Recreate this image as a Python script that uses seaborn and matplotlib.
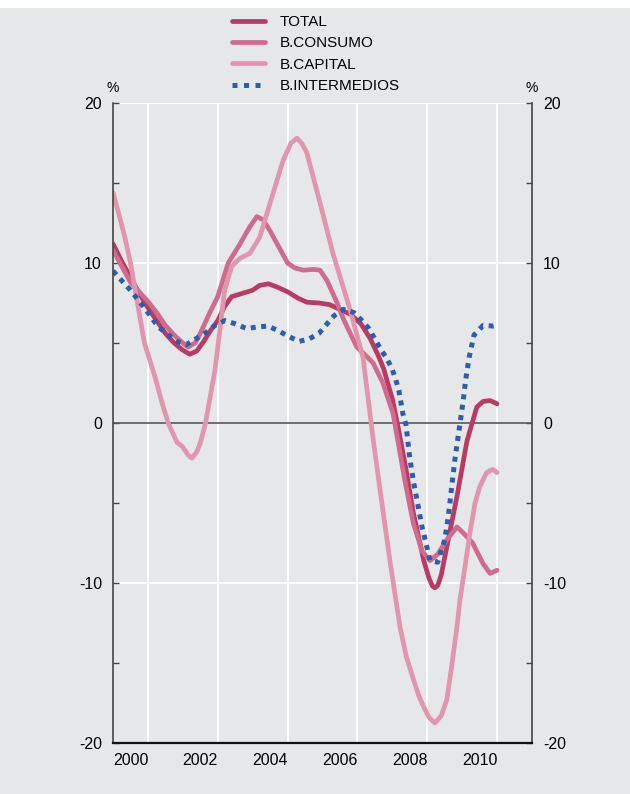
import numpy as np
import pandas as pd
import matplotlib
matplotlib.use('Agg')
import matplotlib.pyplot as plt
from matplotlib.patches import Rectangle
import seaborn as sns

# values (decimal years, % change)
total_x = [2000.0, 2000.25, 2000.5, 2000.75, 2001.0, 2001.25, 2001.5, 2001.75, 2002.0, 2002.2,
           2002.4, 2002.6, 2002.8, 2003.0, 2003.2, 2003.4, 2003.7, 2004.0, 2004.2, 2004.45,
           2004.7, 2005.0, 2005.3, 2005.55, 2005.9, 2006.2, 2006.5, 2006.8, 2007.1, 2007.36,
           2007.6, 2007.75, 2008.0, 2008.16, 2008.4, 2008.6, 2008.9, 2009.05, 2009.15, 2009.22,
           2009.3, 2009.4, 2009.56, 2009.85, 2010.14, 2010.42, 2010.6, 2010.8, 2011.0]
total_y = [11.2, 10.1, 9.1, 8.1, 7.2, 6.4, 5.6, 5.0, 4.55, 4.3,
           4.5, 5.1, 5.8, 6.4, 7.3, 7.9, 8.1, 8.3, 8.6, 8.7,
           8.5, 8.2, 7.8, 7.55, 7.5, 7.4, 7.1, 6.8, 6.2, 5.3,
           4.2, 3.4, 1.5, -0.2, -3.0, -5.6, -8.6, -9.7, -10.2, -10.3,
           -10.15, -9.5, -7.75, -4.6, -1.1, 1.0, 1.35, 1.4, 1.2]

consumo_x = [2000.0, 2000.25, 2000.5, 2000.75, 2001.0, 2001.25, 2001.5, 2001.75, 2002.0, 2002.15,
             2002.35, 2002.5, 2002.75, 2003.0, 2003.3, 2003.64, 2003.9, 2004.12, 2004.3, 2004.5,
             2004.75, 2005.0, 2005.2, 2005.45, 2005.75, 2005.93, 2006.13, 2006.4, 2006.6, 2006.98,
             2007.2, 2007.45, 2007.73, 2008.02, 2008.15, 2008.35, 2008.6, 2008.85, 2009.08, 2009.3,
             2009.56, 2009.85, 2010.0, 2010.3, 2010.6, 2010.8, 2011.0]
consumo_y = [10.8, 9.8, 8.8, 8.2, 7.6, 6.9, 6.1, 5.5, 5.0, 4.75,
             5.0, 5.6, 6.8, 7.9, 10.0, 11.2, 12.2, 12.9, 12.7, 12.0,
             11.0, 10.0, 9.7, 9.55, 9.6, 9.55, 8.9, 7.6, 6.5, 4.75,
             4.3, 3.75, 2.5, 0.6, -1.0, -3.5, -6.25, -8.0, -8.6, -8.2,
             -7.3, -6.5, -6.8, -7.5, -8.8, -9.4, -9.2]

capital_x = [2000.0, 2000.15, 2000.34, 2000.5, 2000.7, 2000.9, 2001.2, 2001.4, 2001.58, 2001.83,
             2002.0, 2002.15, 2002.26, 2002.4, 2002.5, 2002.65, 2002.92, 2003.2, 2003.4, 2003.64,
             2003.92, 2004.2, 2004.5, 2004.87, 2005.1, 2005.27, 2005.4, 2005.55, 2005.93, 2006.3,
             2006.8, 2007.16, 2007.45, 2007.7, 2007.93, 2008.22, 2008.4, 2008.6, 2008.75, 2008.9,
             2009.05, 2009.22, 2009.4, 2009.56, 2009.7, 2009.85, 2009.94, 2010.08, 2010.22, 2010.37,
             2010.5, 2010.7, 2010.87, 2011.0]
capital_y = [14.4, 13.2, 11.6, 10.0, 7.5, 5.0, 2.9, 1.3, 0.0, -1.2,
             -1.5, -2.0, -2.2, -1.8, -1.25, 0.0, 3.3, 8.3, 9.8, 10.3,
             10.6, 11.6, 13.75, 16.4, 17.5, 17.8, 17.5, 16.9, 13.75, 10.6,
             7.0, 4.1, -1.0, -5.0, -8.6, -12.75, -14.6, -16.0, -17.0, -17.75,
             -18.4, -18.75, -18.3, -17.3, -15.2, -12.75, -11.0, -9.0, -6.9, -5.0,
             -4.0, -3.1, -2.9, -3.1]

interm_x = [2000.0, 2000.5, 2000.9, 2001.3, 2001.83, 2002.1, 2002.63, 2002.92, 2003.2, 2003.5,
            2003.83, 2004.12, 2004.44, 2004.75, 2005.04, 2005.33, 2005.61, 2005.9, 2006.13, 2006.33,
            2006.6, 2006.9, 2007.13, 2007.33, 2007.5, 2007.67, 2007.85, 2007.99, 2008.1, 2008.19,
            2008.25, 2008.3, 2008.39, 2008.5, 2008.6, 2008.73, 2008.85, 2008.94, 2009.08, 2009.3,
            2009.5, 2009.6, 2009.7, 2009.79, 2009.94, 2010.03, 2010.1, 2010.2, 2010.34, 2010.6,
            2010.9, 2011.0]
interm_y = [9.5, 8.3, 7.2, 6.0, 5.1, 4.9, 5.6, 6.1, 6.4, 6.2,
            5.9, 6.0, 6.06, 5.75, 5.4, 5.1, 5.25, 5.6, 6.2, 6.7,
            7.1, 6.9, 6.4, 5.9, 5.25, 4.6, 4.0, 3.4, 2.7, 2.0,
            1.25, 0.6, -0.1, -2.2, -3.6, -5.1, -6.5, -7.3, -8.6, -8.7,
            -7.3, -5.9, -4.0, -2.3, 0.0, 1.4, 2.7, 4.1, 5.5, 6.1,
            6.06, 6.1]

labels = ['TOTAL', 'B.CONSUMO', 'B.CAPITAL', 'B.INTERMEDIOS']
colors = ['#b93a63', '#cf6b8c', '#e196ae', '#2b5fae']
year_labels = ['2000', '2002', '2004', '2006', '2008', '2010']

frames = []
for name, xs, ys in zip(labels, [total_x, consumo_x, capital_x, interm_x],
                        [total_y, consumo_y, capital_y, interm_y]):
    frames.append(pd.DataFrame({'year': xs, 'value': ys, 'serie': name}))
df = pd.concat(frames, ignore_index=True)

sns.set_style('white')
plt.rcParams['font.family'] = ['Liberation Sans', 'DejaVu Sans']
plt.rcParams['axes.unicode_minus'] = False
plt.rcParams['text.color'] = 'black'
plt.rcParams['xtick.labelcolor'] = 'black'
plt.rcParams['ytick.labelcolor'] = 'black'
bg = '#e6e7e9'

fig = plt.figure(figsize=(6.3, 7.94), dpi=100, facecolor=bg)
fig.patches.append(Rectangle((0, 1 - 8 / 794), 1, 8 / 794, transform=fig.transFigure,
                             facecolor='white', edgecolor='none', zorder=0))
ax = fig.add_axes([113 / 630, 51 / 794, 419 / 630, 640 / 794])
ax.set_facecolor(bg)

# white grid
for yr in range(2001, 2012, 2):
    ax.axvline(yr, color='white', lw=1.3, zorder=0)
ax.set_ylim(-20, 20)
ax.set_xlim(2000, 2012)
ax.set_yticks(np.arange(-20, 21, 10))
ax.set_yticks(np.arange(-20, 21, 5), minor=True)
ax.yaxis.grid(True, color='white', lw=1.3, zorder=0)
ax.set_axisbelow(True)
ax.axhline(0, color='#555555', lw=1.2, zorder=1)

dashes = {'TOTAL': '', 'B.CONSUMO': '', 'B.CAPITAL': '', 'B.INTERMEDIOS': (1, 1.1)}
sns.lineplot(data=df, x='year', y='value', hue='serie', style='serie', hue_order=labels,
             style_order=labels, palette=colors, dashes=dashes, sort=False,
             estimator=None, ax=ax, legend=False, lw=3.4)
for line in ax.get_lines():
    line.set_solid_capstyle('round')
    line.set_solid_joinstyle('round')
ax.get_lines()[-1].set_linewidth(3.6)

# x ticks: marks each year, labels centred in even years
ax.set_xticks(np.arange(2000, 2013, 1))
ax.set_xticklabels([])
ax.set_xticks(np.arange(2000.5, 2011, 2), minor=True)
ax.set_xticklabels(year_labels, minor=True)
ax.tick_params(axis='x', which='major', direction='in', length=4, width=1.2, color='#222222')
ax.tick_params(axis='x', which='minor', length=0, pad=7, labelsize=11.5)
ax.tick_params(axis='y', which='both', direction='in', left=True, right=True,
               labelleft=True, labelright=True, length=4, width=1, color='#444444',
               labelsize=11.5, pad=8)
ax.set_xlabel('')
ax.set_ylabel('')

for side in ['left', 'right']:
    ax.spines[side].set_color('#444444')
    ax.spines[side].set_linewidth(1.2)
ax.spines['bottom'].set_color('#111111')
ax.spines['bottom'].set_linewidth(1.6)
ax.spines['top'].set_visible(False)

ax.text(0, 1.012, '%', transform=ax.transAxes, ha='center', va='bottom', fontsize=10)
ax.text(1, 1.012, '%', transform=ax.transAxes, ha='center', va='bottom', fontsize=10)

handles = []
for name, c in zip(labels, colors):
    if name == 'B.INTERMEDIOS':
        h, = ax.plot([], [], color=c, lw=3.6, ls=(0, (1, 1.3)))
    else:
        h, = ax.plot([], [], color=c, lw=3.4)
    handles.append(h)
fig.legend(handles, labels, loc='upper left', bbox_to_anchor=(232 / 630, 1 - 15 / 794),
           frameon=False, fontsize=11, handlelength=2.15, handletextpad=1.0,
           labelspacing=0.48, borderpad=0, borderaxespad=0)

fig.savefig('out.png', dpi=100, facecolor=bg)
